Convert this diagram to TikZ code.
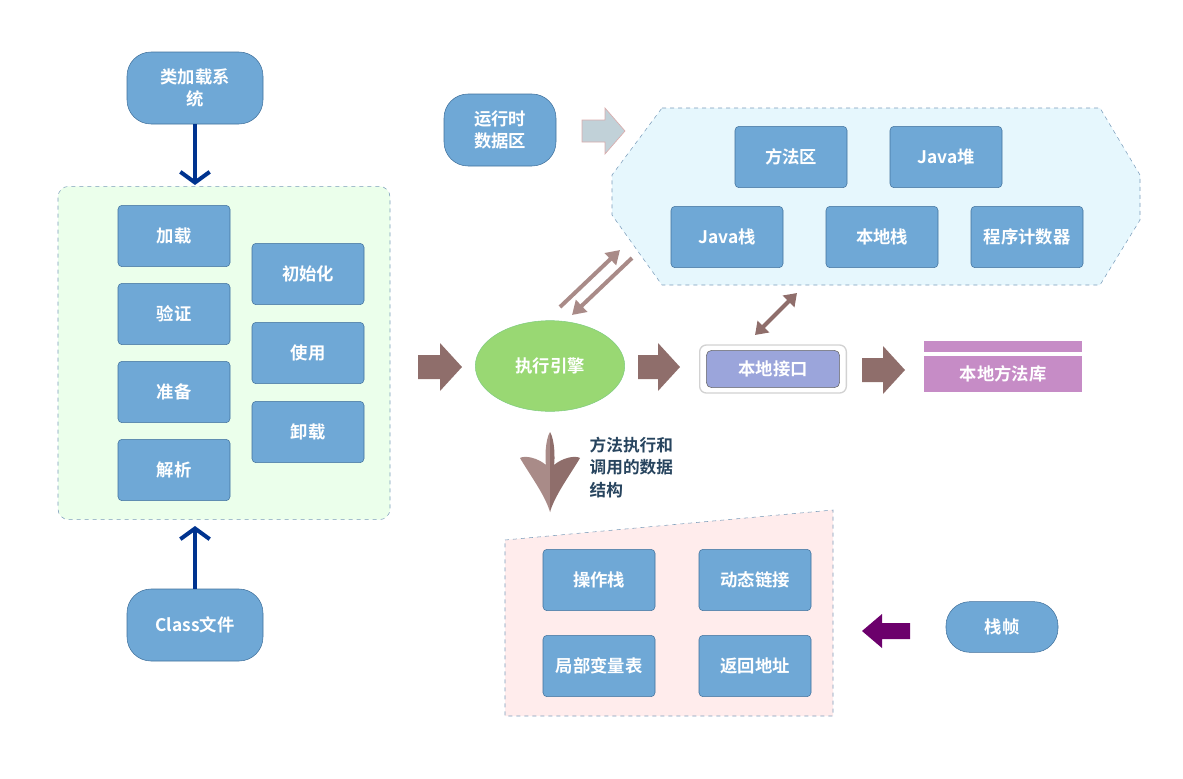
\documentclass[tikz,border=0pt]{standalone}
\usepackage{fontspec}
\newfontfamily\cjk{Noto Sans CJK SC}[BoldFont={Noto Sans CJK SC Bold}]
\usetikzlibrary{arrows.meta,shapes.geometric}
\definecolor{bx}{HTML}{6FA8D6}
\definecolor{bxd}{HTML}{41719C}
\definecolor{brn}{HTML}{8F6E6B}
\definecolor{brl}{HTML}{A98B88}
\begin{document}
\begin{tikzpicture}[x=0.75pt,y=-0.75pt,
 font=\cjk\bfseries\fontsize{13}{16}\selectfont,
 box/.style={draw=bxd,fill=bx,rounded corners=3pt,minimum width=84pt,minimum height=46pt,text=white,inner sep=0pt},
 pill/.style={draw=bxd,fill=bx,rounded corners=18pt,minimum width=102pt,minimum height=54pt,text=white,align=center,inner sep=0pt},
 blk/.style={fill=brn,draw=none}]
\useasboundingbox (0,0) rectangle (1183,779);
% class loader
\node[pill] (cls) at (195,88) {类加载系\\统};
\node[pill] (cf) at (195,625) {Class文件};
\node[draw=bxd!70,dashed,fill=green!8!white,fill opacity=1,rounded corners=8pt,minimum width=249pt,minimum height=250pt] (ld) at (224,353) {};
\node[box] (a1) at (174,236) {加载};
\node[box] (a2) at (174,314) {验证};
\node[box] (a3) at (174,392) {准备};
\node[box] (a4) at (174,470) {解析};
\node[box] (b1) at (308,274) {初始化};
\node[box] (b2) at (308,353) {使用};
\node[box] (b3) at (308,432) {卸载};
\coordinate (l1) at (195,185); \coordinate (l2) at (195,526);
\draw[line width=3pt,draw=blue!45!black!80!cyan,-{Straight Barb[length=8pt,width=22pt,line width=3pt]}] (cls) -- (l1);
\draw[line width=3pt,draw=blue!45!black!80!cyan,-{Straight Barb[length=8pt,width=22pt,line width=3pt]}] (cf) -- (l2);
% runtime area
\node[pill,minimum width=84pt] (rt) at (500,130) {运行时\\数据区};
\path[fill=cyan!10!white,draw=bxd!70,dashed] (662,108) -- (1100,108) -- (1140,175) -- (1140,220) -- (1100,285) -- (662,285) -- (612,215) -- (612,175) -- cycle;
\coordinate (oct) at (612,195);
\node[box] (m1) at (791,157) {方法区};
\node[box] (m2) at (946,157) {Java堆};
\node[box] (m3) at (727,237) {Java栈};
\node[box] (m4) at (882,237) {本地栈};
\node[box] (m5) at (1027,237) {程序计数器};
\path[fill=cyan!25!gray!45,draw=pink!70!gray,line width=0.5pt] (582,120) -- (605,120) -- (605,108) -- (625,131) -- (605,154) -- (605,142) -- (582,142) -- cycle;
% engine
\node[ellipse,draw=green!60!black!50,fill=green!45!olive!55!white,minimum width=112pt,minimum height=68pt,text=white] (en) at (550,366) {执行引擎};
\path[blk] (418,355) -- (440,355) -- (440,343) -- (462,367) -- (440,391) -- (440,379) -- (418,379) -- cycle;
\path[blk] (638,355) -- (658,355) -- (658,343) -- (680,367) -- (658,391) -- (658,379) -- (638,379) -- cycle;
\path[blk] (862,358) -- (883,358) -- (883,346) -- (905,370) -- (883,394) -- (883,382) -- (862,382) -- cycle;
\coordinate (e1) at (560,307); \coordinate (o1) at (620,250);
\coordinate (e2) at (572,315); \coordinate (o2) at (632,258);
\draw[brl,line width=3pt,-{Triangle[length=10pt,width=12pt]}] (e1) -- (o1);
\draw[brl,line width=3pt,-{Triangle[length=10pt,width=12pt]}] (o2) -- (e2);
% native interface
\node[draw=gray!35,fill=white,rounded corners=5pt,line width=1pt,minimum width=110pt,minimum height=36pt] (ni0) at (773,369) {};
\node[draw=gray!80!black,fill=cyan!30!blue!40!white,rounded corners=4pt,minimum width=100pt,minimum height=28pt,text=white] (ni) at (773,369) {本地接口};
\coordinate (n1) at (755,335); \coordinate (n2) at (797,293);
\draw[brn,line width=3pt,{Triangle[length=9pt,width=12pt]}-{Triangle[length=9pt,width=12pt]}] (n1) -- (n2);
\fill[violet!45!white] (924,341) rectangle (1082,352);
\node[fill=violet!45!white,minimum width=118pt,minimum height=27pt,text=white,inner sep=0pt] (lib) at (1003,374) {本地方法库};
% stack frame
\path[fill=brl] (550,432) .. controls (545,440) and (545,460) .. (546,465) .. controls (538,458) and (525,455) .. (520,458) .. controls (530,475) and (545,495) .. (550,512) -- cycle;
\path[fill=brn] (550,432) .. controls (555,440) and (555,460) .. (554,465) .. controls (562,458) and (575,455) .. (580,458) .. controls (570,475) and (555,495) .. (550,512) -- cycle;
\node[text=bxd!60!black,align=left,anchor=north west,font=\cjk\bfseries\fontsize{12.5}{17}\selectfont] (txt) at (585,432) {方法执行和\\调用的数据\\结构};
\path[fill=pink!30!white,draw=bxd!70,dashed] (505,540) -- (833,510) -- (833,716) -- (505,716) -- cycle;
\node[box] (s1) at (599,580) {操作栈};
\node[box] (s2) at (755,580) {动态链接};
\node[box] (s3) at (599,666) {局部变量表};
\node[box] (s4) at (755,666) {返回地址};
\node[pill,minimum width=84pt,minimum height=38pt] (zf) at (1002,627) {栈帧};
\path[fill=violet!85!black] (910,623) -- (882,623) -- (882,614) -- (862,631) -- (882,648) -- (882,639) -- (910,639) -- cycle;
\end{tikzpicture}
\end{document}
